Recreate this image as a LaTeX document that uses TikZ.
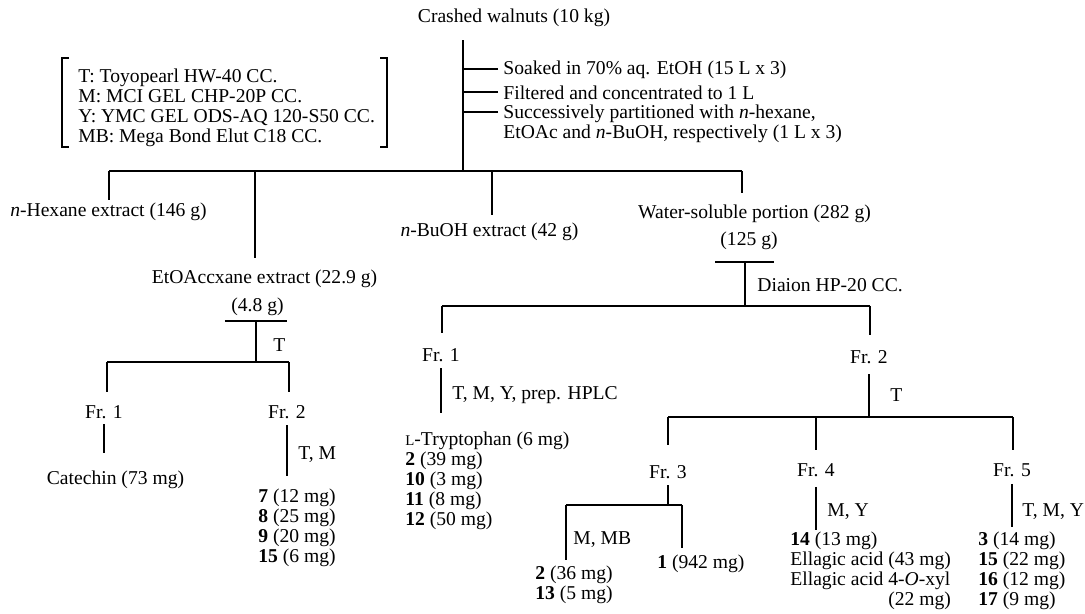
\documentclass[tikz,border=0pt]{standalone}
\usepackage{fontspec}
\setmainfont{Liberation Serif}

\begin{document}
\begin{tikzpicture}[
  x=0.5pt,y=-0.5pt,
  every node/.style={inner sep=0pt,font=\fontsize{9.8}{10}\selectfont},
  item/.style={anchor=west},
  list/.style={anchor=north west,align=left},
  link/.style={line width=0.7pt},
  rule/.style={line width=1pt}
]
\useasboundingbox (0,0) rectangle (1085,614);

\node (walnut) at (514,18) {Crashed walnuts (10 kg)};
\node[list] (legend) at (78,68.5) {T: Toyopearl HW-40 CC.\\M: MCI GEL CHP-20P CC.\\Y: YMC GEL ODS-AQ 120-S50 CC.\\MB: Mega Bond Elut C18 CC.};
\draw[rule] ([shift={(-9,-10)}]legend.north west) -- ([shift={(-16,-10)}]legend.north west) -- ([shift={(-16,0)}]legend.south west) -- ([shift={(-9,0)}]legend.south west);
\draw[rule] ([shift={(5,-10)}]legend.north east) -- ([shift={(12,-10)}]legend.north east) -- ([shift={(12,0)}]legend.south east) -- ([shift={(5,0)}]legend.south east);

\coordinate (split0) at (463,171);
\draw[link,shorten <=6.5pt] (walnut.south -| split0) -- (split0);
\node[item] (step1) at (503,69.5) {Soaked in 70\% aq. EtOH (15 L x 3)};
\node[item] (step2) at (503,92.5) {Filtered and concentrated to 1 L};
\node[list] (step3) at (503,105) {Successively partitioned with \textit{n}-hexane,\\EtOAc and \textit{n}-BuOH, respectively (1 L x 3)};
\draw[rule] ([xshift=-2.5pt]step1.west) -- (step1.west -| split0);
\draw[rule] ([xshift=-2.5pt]step2.west) -- (step2.west -| split0);
\draw[link] ([shift={(-5,7)}]step3.north west) -| (split0);

\coordinate (b0w) at (109,171);
\coordinate (b0a) at (255,171);
\coordinate (b0b) at (492,171);
\coordinate (b0e) at (742,171);
\draw[link] (b0w) -- (b0e);
\node (hexane) at (108.5,212) {\textit{n}-Hexane extract (146 g)};
\node (etoac) at (264.5,279) {EtOAccxane extract (22.9 g)};
\node (buoh) at (489.5,232) {\textit{n}-BuOH extract (42 g)};
\node (water) at (754.5,214) {Water-soluble portion (282 g)};
\draw[link,shorten >=1.5pt] (b0w) -- (b0w |- hexane.north);
\draw[link,shorten >=6pt] (b0a) -- (b0a |- etoac.north);
\draw[link,shorten >=4pt] (b0b) -- (b0b |- buoh.north);
\draw[link,shorten >=6pt] (b0e) -- (b0e |- water.north);

\node (w125) at (749,241) {(125 g)};
\draw[rule] ([shift={(-5,12)}]w125.south west) -- ([shift={(-4,12)}]w125.south east);
\coordinate (b2) at (745,306);
\coordinate (b2w) at (442,306);
\coordinate (b2e) at (870,306);
\draw[rule,shorten <=6pt] (w125.south -| b2) -- (b2);
\node[item] (diaion) at (757,285) {Diaion HP-20 CC.};
\draw[rule] (b2w) -- (b2e);
\node (fr1b) at (441,355) {Fr. 1};
\node (fr2b) at (869,357) {Fr. 2};
\draw[link,shorten >=7.5pt] (b2w) -- (b2w |- fr1b.north);
\draw[link,shorten >=7.5pt] (b2e) -- (b2e |- fr2b.north);

\node[list] (tryp) at (405,431) {{\fontsize{7.4}{10}\selectfont L}-Tryptophan (6 mg)\\\textbf{2} (39 mg)\\\textbf{10} (3 mg)\\\textbf{11} (8 mg)\\\textbf{12} (50 mg)};
\draw[link,shorten <=3pt,shorten >=9pt] (fr1b) -- (fr1b |- tryp.north);
\node[item] (hplc) at (452,395) {T, M, Y, prep. HPLC};

\coordinate (b3) at (869,417);
\coordinate (b3w) at (668,417);
\coordinate (b3m) at (816,417);
\coordinate (b3e) at (1013,417);
\draw[link,shorten <=5pt] (fr2b) -- (b3);
\node[item] (tlab) at (890,395) {T};
\draw[link] (b3w) -- (b3e);
\node (fr3) at (668,472) {Fr. 3};
\node (fr4) at (816,470) {Fr. 4};
\node (fr5) at (1012,470) {Fr. 5};
\draw[link,shorten >=10pt] (b3w) -- (fr3.north);
\draw[link,shorten >=6.5pt] (b3m) -- (fr4.north);
\draw[link,shorten >=6.5pt] (b3e) -- (b3e |- fr5.north);

\coordinate (b4) at (668,505);
\coordinate (b4w) at (566,505);
\coordinate (b4e) at (682,505);
\draw[link,shorten <=3pt] (fr3) -- (b4);
\draw[link] (b4w) -- (b4e);
\node[list] (res3a) at (535,565) {\textbf{2} (36 mg)\\\textbf{13} (5 mg)};
\node[item] (res3b) at (657,564) {\textbf{1} (942 mg)};
\draw[link,shorten >=2.5pt] (b4w) -- (b4w |- res3a.north);
\draw[link,shorten >=3.5pt] (b4e) -- (b4e |- res3b.north);
\node[item] (mmb) at (573,540) {M, MB};

\node[list] (res4) at (790,531) {\textbf{14} (13 mg)\\Ellagic acid (43 mg)\\Ellagic acid 4-\textit{O}-xyl\\\hfill(22 mg)};
\draw[link,shorten <=5pt,shorten >=0.5pt] (fr4) -- (fr4 |- res4.north);
\node[item] (my) at (827,512) {M, Y};

\node[list] (res5) at (978,531) {\textbf{3} (14 mg)\\\textbf{15} (22 mg)\\\textbf{16} (12 mg)\\\textbf{17} (9 mg)};
\draw[link,shorten <=3.5pt,shorten >=2pt] (fr5) -- (fr5 |- res5.north);
\node[item] (tmy) at (1022,512) {T, M, Y};

\node (w48) at (257.5,307) {(4.8 g)};
\draw[rule] ([shift={(-6,5)}]w48.south west) -- ([shift={(3,5)}]w48.south east);
\coordinate (b5) at (256,362);
\coordinate (b5w) at (107,362);
\coordinate (b5e) at (289,362);
\draw[rule,shorten <=2.5pt] (w48.south -| b5) -- (b5);
\node[item] (tlab2) at (273,345) {T};
\draw[rule] (b5w) -- (b5e);
\node (fr1a) at (104,412) {Fr. 1};
\node (fr2a) at (287,412) {Fr. 2};
\draw[link,shorten >=6.5pt] (b5w) -- (b5w |- fr1a.north);
\draw[link,shorten >=6.5pt] (b5e) -- (b5e |- fr2a.north);
\node (catechin) at (115.5,480) {Catechin (73 mg)};
\draw[link,shorten <=2.5pt,shorten >=9pt] (fr1a) -- (fr1a |- catechin.north);
\node[list] (res2a) at (258,488) {\textbf{7} (12 mg)\\\textbf{8} (25 mg)\\\textbf{9} (20 mg)\\\textbf{15} (6 mg)};
\draw[link,shorten <=3pt,shorten >=6pt] (fr2a) -- (fr2a |- res2a.north);
\node[item] (tm) at (298,455) {T, M};
\end{tikzpicture}
\end{document}
